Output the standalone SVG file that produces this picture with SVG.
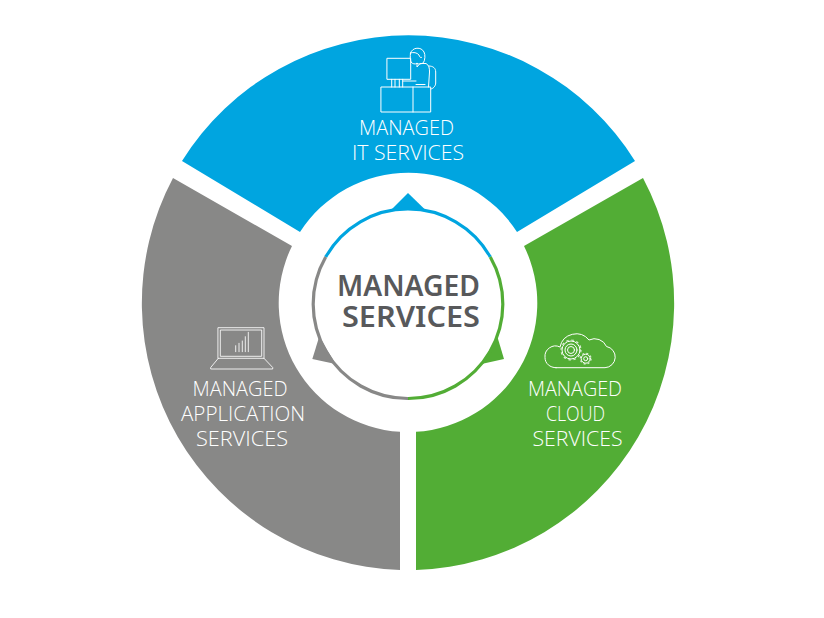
<svg xmlns="http://www.w3.org/2000/svg" width="824" height="618" viewBox="0 0 824 618">
<style>
.lbl{font-family:"Open Sans","Liberation Sans",sans-serif;font-weight:300;font-size:20px;fill:#fff;text-anchor:middle}
.ctr{font-family:"Noto Sans","Liberation Sans",sans-serif;font-weight:600;font-size:29px;fill:#58595b;text-anchor:middle}
.ic{fill:none;stroke:#fff;stroke-width:1;stroke-linejoin:round;stroke-linecap:round}
.ring{fill:none;stroke-width:3.2}
</style>
<rect width="824" height="618" fill="#fff"/>
<g id="connectors">
<path d="M408 193L425 209.5L391.5 209.5Z" fill="#00a5e0"/>
<path d="M312.3 359L319.3 336.5L335.5 364Z" fill="#888887"/>
<path d="M504 359L497.3 336.5L481.5 364Z" fill="#52ad35"/>
<path class="ring" stroke="#00a5e0" d="M325.7 257A94.5 94.5 0 0 1 490.3 257"/>
<path class="ring" stroke="#52ad35" d="M490.3 257A94.5 94.5 0 0 1 408 398.5"/>
<path class="ring" stroke="#888887" d="M408 398.5A94.5 94.5 0 0 1 325.7 257"/>
</g>
<g id="node-it">
<path fill="#00a5e0" d="M182 161A267 267 0 0 1 635 161L517 232A129 129 0 0 0 300 232Z"/>
<g class="ic">
<rect x="387.3" y="58.3" width="23.4" height="21"/>
<path d="M391.7 79.3V87M395 79.3V87M399.3 79.3V87M402.7 79.3V87"/>
<rect x="381.3" y="87" width="49.4" height="25"/>
<path d="M413 87V112"/>
<path d="M410.5 53A7.5 7.5 0 0 1 424 52C425.500 55 425 60 423.500 62.500C422 64 419 64.500 417 63.500"/>
<path d="M410.500 53C410 57 410.300 60 411 62C412.500 64 415 64.500 417 63.500M410.500 53C413.500 52 417 52.500 419 55C419.500 57 420.500 58 421.500 57.500"/>
<path d="M417 64V67L420 63.500L426 63.500C429 65 429.500 68 429.500 72L428.500 87M416 84.500H425M403 81H416"/>
<path d="M429 66C433 66 435.700 68 435.700 72V83C435.700 86 433 89 430.700 89"/>
</g>
<text class="lbl" x="406.500" y="135" textLength="95" lengthAdjust="spacingAndGlyphs">MANAGED</text>
<text class="lbl" x="408" y="160" textLength="112" lengthAdjust="spacingAndGlyphs">IT SERVICES</text>
</g>
<g id="node-app">
<path fill="#888887" d="M173 178L292 246A129 129 0 0 0 400 431.800V570A267 267 0 0 1 173 178Z"/>
<g class="ic" stroke-opacity=".85">
<rect x="218.300" y="327.700" width="45.700" height="30.600"/>
<rect x="220.700" y="330" width="41" height="26.300"/>
<path d="M218.300 358.300L210.700 367.500V369H272.700V367.500L264 358.300"/>
<path d="M235.700 351.700V345.700M239 351.700V343.300M242.300 351.700V341M245.300 351.700V336.700M248.300 351.700V332.300"/>
</g>
<text class="lbl" x="240" y="396" textLength="95" lengthAdjust="spacingAndGlyphs">MANAGED</text>
<text class="lbl" x="243" y="421" textLength="124" lengthAdjust="spacingAndGlyphs">APPLICATION</text>
<text class="lbl" x="242" y="446" textLength="92" lengthAdjust="spacingAndGlyphs">SERVICES</text>
</g>
<g id="node-cloud">
<path fill="#52ad35" d="M643 178L524 246A129 129 0 0 1 416 431.800V570A267 267 0 0 0 643 178Z"/>
<g class="ic">
<path d="M556 367.700H605A10.700 10.700 0 0 0 606.500 346.500A13 13 0 0 0 589 340A16.500 16.500 0 0 0 560 347A10.500 10.500 0 0 0 545 357.500C545 363.500 550 367.700 556 367.700Z"/>
<circle cx="571" cy="350" r="3.500"/>
<circle cx="571" cy="350" r="6"/>
<circle cx="571" cy="350" r="9"/>
<circle cx="571" cy="350" r="10" stroke-width="1.200" stroke-dasharray="2.500 2.740" stroke-linecap="butt" stroke-opacity=".8"/>
<circle cx="585.700" cy="358.700" r="2"/>
<circle cx="585.700" cy="358.700" r="4.500"/>
<circle cx="585.700" cy="358.700" r="5.400" stroke-width="1.200" stroke-dasharray="2 2.240" stroke-linecap="butt" stroke-opacity=".8"/>
</g>
<text class="lbl" x="575" y="396" textLength="94" lengthAdjust="spacingAndGlyphs">MANAGED</text>
<text class="lbl" x="575.500" y="421" textLength="59" lengthAdjust="spacingAndGlyphs">CLOUD</text>
<text class="lbl" x="577.500" y="446" textLength="90" lengthAdjust="spacingAndGlyphs">SERVICES</text>
</g>
<g id="node-center">
<text class="ctr" x="408.500" y="296" textLength="143" lengthAdjust="spacingAndGlyphs">MANAGED</text>
<text class="ctr" x="411" y="327" textLength="138" lengthAdjust="spacingAndGlyphs">SERVICES</text>
</g>
</svg>
